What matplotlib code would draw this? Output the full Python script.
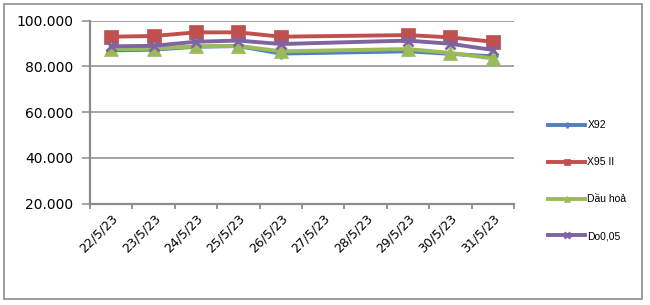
import numpy as np
import matplotlib
matplotlib.use("Agg")
import matplotlib.pyplot as plt
import matplotlib.ticker as ticker
from matplotlib.patches import Rectangle

# Ngày có dữ liệu (27, 28 không có) và nhãn trục x
days = [22, 23, 24, 25, 26, 29, 30, 31]
label_days = list(range(22, 32))
x_labels = ["%d/5/23" % d for d in label_days]

x92 = [87.0, 87.3, 88.6, 88.9, 85.6, 86.6, 85.5, 84.4]
x95 = [93.0, 93.3, 94.9, 94.9, 93.0, 93.7, 92.7, 90.8]
dau_hoa = [87.6, 87.7, 88.8, 89.0, 86.6, 87.6, 85.9, 83.5]
do005 = [88.8, 89.0, 90.8, 91.3, 89.8, 91.3, 89.9, 87.2]

names = ["X92", "X95 II", "Dầu hoả", "Do0,05"]
series = [x92, x95, dau_hoa, do005]
colors = ["#4F81BD", "#C0504D", "#9BBB59", "#8064A2"]
markers = ["+", "s", "^", "x"]
msizes = [7, 9.5, 10, 7]

fig = plt.figure(figsize=(6.5, 3.05), dpi=100)
ax = fig.add_axes([90 / 650, 1 - 203.5 / 305, 424 / 650, 182.8 / 305])

# cadre autour du graphique
fig.patches.append(Rectangle((4 / 650, 1 - 299 / 305), 638 / 650, 295 / 305,
                             transform=fig.transFigure, fill=False,
                             edgecolor="#8c8c8c", lw=1.2))

for name, vals, c, m, ms in zip(names, series, colors, markers, msizes):
    ax.plot(days, vals, color=c, lw=2.8, marker=m, markersize=ms,
            markeredgewidth=2 if m in "+x" else 0.5, markeredgecolor=c,
            label=name, zorder=3)

ax.set_xlim(21.5, 31.5)
ax.set_ylim(20, 100)
ax.yaxis.set_major_locator(ticker.MultipleLocator(20))
ax.yaxis.set_major_formatter(ticker.FormatStrFormatter("%.3f"))
ax.grid(axis="y", color="#8c8c8c", lw=1.1, zorder=0)

ax.set_xticks(np.arange(21.5, 32, 1))
ax.set_xticklabels([])
ax.set_xticks(label_days, minor=True)
ax.set_xticklabels(x_labels, minor=True, rotation=45, ha="right",
                   rotation_mode="anchor", fontsize=9)
ax.tick_params(axis="x", which="minor", length=0, pad=6)
ax.tick_params(axis="x", which="major", length=3.5, width=1.3, color="#8c8c8c")
ax.tick_params(axis="y", length=5.5, width=1.1, color="#8c8c8c", pad=6.5,
               labelsize=10)

for s in ["top", "right"]:
    ax.spines[s].set_visible(False)
for s in ["left", "bottom"]:
    ax.spines[s].set_color("#8c8c8c")
    ax.spines[s].set_linewidth(1.6)

leg = ax.legend(loc="upper left", bbox_to_anchor=(1.07, 0.477), frameon=False,
                prop={"family": "Liberation Sans", "size": 7.5},
                handlelength=3.6, labelspacing=2.58, handletextpad=0.2,
                borderaxespad=0)
for h in leg.legend_handles:
    h.set_markersize(5)

fig.savefig("out.png", dpi=100)
